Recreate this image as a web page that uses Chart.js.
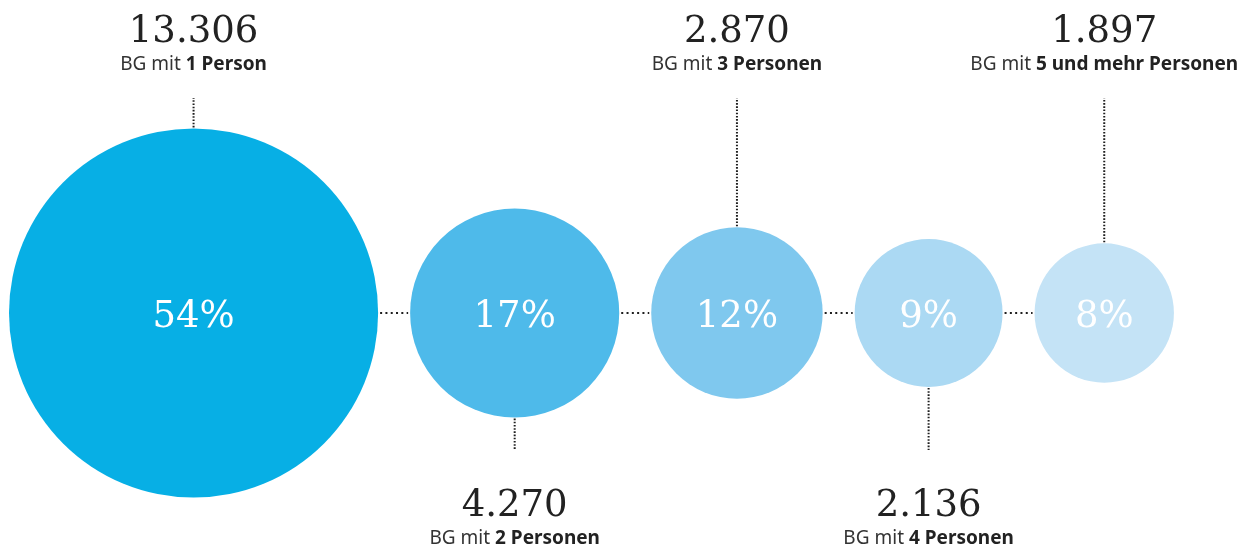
<!DOCTYPE html>
<html lang="de">
<head>
<meta charset="utf-8">
<title>Bedarfsgemeinschaften nach Größe</title>
<script src="https://cdn.jsdelivr.net/npm/chart.js@4/dist/chart.umd.min.js"></script>
<style>
    html, body { margin: 0; padding: 0; background: #ffffff; }
    #wrap { width: 1250px; height: 549px; }
</style>
</head>
<body>
<div id="wrap"><canvas id="chartBG" width="1250" height="549"></canvas></div>
<script>
// Daten aus der Grafik
const categories = ['1 Person', '2 Personen', '3 Personen', '4 Personen', '5 und mehr Personen'];
const counts = [13306, 4270, 2870, 2136, 1897];
const percents = [54, 17, 12, 9, 8];
const colors = ['#07afe5', '#4ebaea', '#7fc8ee', '#abd9f3', '#c4e3f6'];

// Layout
const rScale = 1.6;     // Pixel pro Wurzel(Anzahl), Fläche ~ Anzahl
const gap = 32;         // Abstand zwischen den Kreisen
const leftEdge = 9;
const midY = 313;

const radii = counts.map(v => rScale * Math.sqrt(v));
let cursor = leftEdge;
const centers = radii.map(r => {
    const x = cursor + r;
    cursor += 2 * r + gap;
    return x;
});

function formatDe(n) {
    return String(n).replace(/\B(?=(\d{3})+(?!\d))/g, '.');
}

const serif = '"DejaVu Serif", serif';
const sans = '"Noto Sans", "Open Sans", sans-serif';

function dotted(ctx, x1, y1, x2, y2, dash) {
    ctx.save();
    ctx.strokeStyle = '#1e1e1e';
    ctx.lineWidth = 2;
    ctx.lineCap = 'butt';
    ctx.setLineDash(dash);
    ctx.beginPath();
    ctx.moveTo(x1, y1);
    ctx.lineTo(x2, y2);
    ctx.stroke();
    ctx.restore();
}

// Untertitel: "BG mit " normal, Rest fett
function drawCaption(ctx, text, cx, y) {
    const pre = 'BG mit ';
    ctx.font = '19px ' + sans;
    const w1 = ctx.measureText(pre).width;
    ctx.font = 'bold 19px ' + sans;
    const w2 = ctx.measureText(text).width;
    const x0 = cx - (w1 + w2) / 2;
    ctx.textAlign = 'left';
    ctx.fillStyle = '#333333';
    ctx.font = '19px ' + sans;
    ctx.fillText(pre, x0, y);
    ctx.fillStyle = '#222222';
    ctx.font = 'bold 19px ' + sans;
    ctx.fillText(text, x0 + w1, y);
}

const annotations = {
    id: 'annotations',
    afterDatasetsDraw(chart) {
        const ctx = chart.ctx;
        const meta = chart.getDatasetMeta(0);
        const pts = meta.data.map((el, i) => ({ x: el.x, y: el.y, r: radii[i] }));

        // horizontale Verbindungen
        for (let i = 0; i < pts.length - 1; i++) {
            dotted(ctx, pts[i].x + pts[i].r + 2, pts[i].y, pts[i + 1].x - pts[i + 1].r - 2, pts[i].y, [2, 3.3]);
        }

        pts.forEach((p, i) => {
            const top = i % 2 === 0;
            ctx.save();
            ctx.textBaseline = 'alphabetic';
            if (top) {
                dotted(ctx, p.x, p.y - p.r - 1, p.x, 98, [1.6, 1.6]);
                ctx.fillStyle = '#222222';
                ctx.font = '37px ' + serif;
                ctx.textAlign = 'center';
                ctx.fillText(formatDe(counts[i]), p.x, 42);
                drawCaption(ctx, categories[i], p.x, 70);
            } else {
                dotted(ctx, p.x, p.y + p.r + 1, p.x, 450, [1.6, 1.6]);
                ctx.fillStyle = '#222222';
                ctx.font = '37px ' + serif;
                ctx.textAlign = 'center';
                ctx.fillText(formatDe(counts[i]), p.x, 516);
                drawCaption(ctx, categories[i], p.x, 544);
            }

            // Prozentwert im Kreis
            ctx.fillStyle = '#ffffff';
            ctx.font = '37px ' + serif;
            ctx.textAlign = 'center';
            ctx.fillText(percents[i] + '%', p.x, p.y + 14);
            ctx.restore();
        });
    }
};

const chartBG = new Chart(document.getElementById('chartBG').getContext('2d'), {
    type: 'bubble',
    data: {
        labels: categories,
        datasets: [{
            data: counts.map((v, i) => ({ x: centers[i], y: midY, r: radii[i] })),
            backgroundColor: colors,
            borderWidth: 0,
            hoverBorderWidth: 0,
            clip: false
        }]
    },
    options: {
        responsive: false,
        animation: false,
        devicePixelRatio: 1,
        layout: { padding: 0, autoPadding: false },
        events: [],
        scales: {
            x: { type: 'linear', min: 0, max: 1250, display: false },
            y: { type: 'linear', min: 0, max: 549, reverse: true, display: false }
        },
        plugins: {
            legend: { display: false },
            tooltip: { enabled: false }
        }
    },
    plugins: [annotations]
});
</script>
</body>
</html>
